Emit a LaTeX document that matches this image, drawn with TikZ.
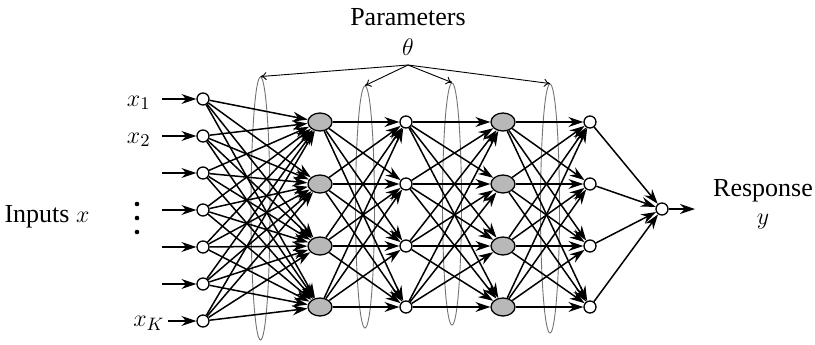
\documentclass[tikz,border=0pt]{standalone}
\usepackage{fontspec}
\setmainfont{Liberation Serif}
\usepackage{tikz}
\usetikzlibrary{arrows.meta,shapes.geometric}

\tikzset{
  unit/.style={draw, circle, fill=white, line width=0.65pt, inner sep=0pt, minimum size=6pt},
  hidden/.style={draw, ellipse, fill=black!28, line width=0.65pt, inner sep=0pt, minimum width=12pt, minimum height=9pt},
  wire/.style={line width=0.75pt, -{Stealth[length=7.5pt,width=5pt]}},
  loop/.style={draw=black!55, ellipse, line width=0.45pt, inner sep=0pt, minimum width=9.5pt},
  param/.style={line width=0.45pt, -{To[length=3pt,width=4pt]}},
}

\begin{document}
\begin{tikzpicture}[x=0.5pt, y=-0.5pt, font=\fontsize{13}{15}\selectfont]
  %%%%% START %%%%%
  \useasboundingbox (0,0) rectangle (815,344);

  % loops round the weight layers
  \node[loop, minimum height=131.5pt] (g1) at (260.5,208.5) {};
  \node[loop, minimum height=121pt] (g2) at (365,207) {};
  \node[loop, minimum height=121pt] (g3) at (452,204) {};
  \node[loop, minimum height=124.5pt] (g4) at (550,208.5) {};

  % parameters
  \node (params) at (408,17) {Parameters};
  \node (theta) at (408,47) {$\theta$};
  \coordinate (apex) at (408,65);
  \draw[param] (apex) -- (g1.north);
  \draw[param] (apex) -- (g2.north);
  \draw[param] (apex) -- (g3.north);
  \draw[param] (apex) -- (g4.north);

  % units
  \foreach \i/\y in {1/99,2/136,3/173,4/210,5/247,6/284,7/321}
    \node[unit] (a\i) at (203,\y) {};
  \foreach \i/\y in {1/122,2/184,3/246,4/307} {
    \node[hidden] (b\i) at (320,\y) {};
    \node[unit] (c\i) at (406,\y) {};
    \node[hidden] (d\i) at (503,\y) {};
    \node[unit] (e\i) at (590,\y) {};
  }
  \node[unit] (out) at (662,209) {};

  % weights
  \foreach \i in {1,...,7}
    \foreach \j in {1,...,4}
      \draw[wire] (a\i) -- (b\j);
  \foreach \i in {1,...,4}
    \foreach \j in {1,...,4} {
      \draw[wire] (b\i) -- (c\j);
      \draw[wire] (c\i) -- (d\j);
      \draw[wire] (d\i) -- (e\j);
    }
  \foreach \i in {1,...,4}
    \draw[wire] (e\i) -- (out);

  % inputs
  \foreach \i/\y in {1/99,2/136,3/173,4/210,5/247,6/284}
    \coordinate (in\i) at (162,\y);
  \coordinate (in7) at (168,321);
  \foreach \i in {1,...,7}
    \draw[wire] (in\i) -- (a\i);
  \node[anchor=east, inner sep=0pt] (x1) at (151,103) {$x_1$};
  \node[anchor=east, inner sep=0pt] (x2) at (151,140) {$x_2$};
  \node[anchor=east, inner sep=0pt] (xK) at (165,323) {$x_K$};
  \foreach \y in {204,218,232}
    \fill (137,\y) circle (1.15pt);
  \node (inputs) at (47,217) {Inputs $x$};

  % output
  \coordinate (yend) at (695,209);
  \draw[wire] (out) -- (yend);
  \node (resp) at (763,191) {Response};
  \node (y) at (763,222) {$y$};
  %%%%% END %%%%%
\end{tikzpicture}
\end{document}
